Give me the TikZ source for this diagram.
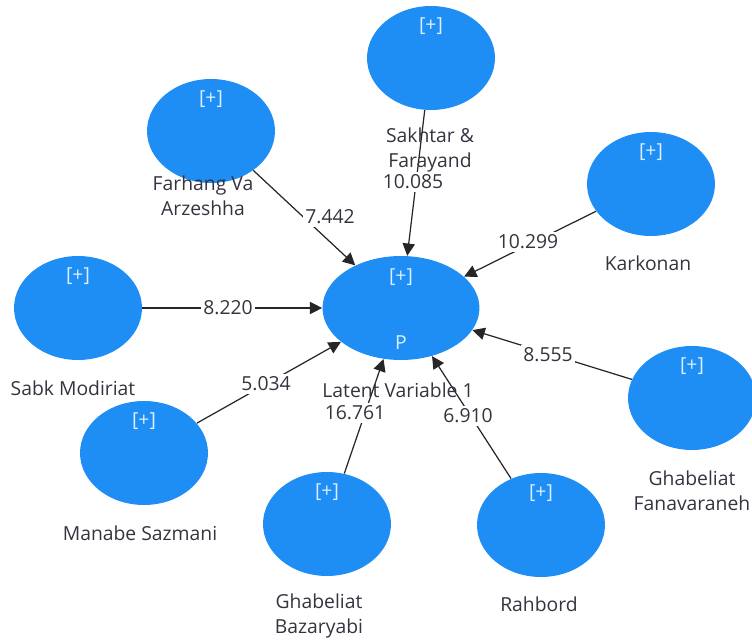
\documentclass[tikz,border=0pt]{standalone}
\usepackage{fontspec}
\setmainfont{Open Sans}
\usetikzlibrary{shapes.geometric,arrows.meta}
\definecolor{lvblue}{RGB}{30,142,245}
\definecolor{lvtext}{RGB}{55,50,62}

\begin{document}
\begin{tikzpicture}[x=0.02cm, y=-0.02cm,
    construct/.style={ellipse, fill=lvblue, inner sep=0pt, minimum width=2.56cm, minimum height=2.08cm},
    plus/.style={text=white!85!lvblue, inner sep=0pt, font=\fontsize{11}{14}\selectfont},
    caption/.style={text=lvtext, align=center, inner sep=0pt, font=\fontsize{11}{14}\selectfont},
    weight/.style={text=lvtext, fill=white, inner sep=1.5pt, font=\fontsize{11}{14}\selectfont},
    link/.style={draw=black!85, line width=0.7pt, -{Triangle[length=7pt,width=7pt]}}]
    \useasboundingbox (0,0) rectangle (752,642);
    % Draw the latent variable in the middle
    \node[construct, minimum width=3.14cm] (lv) at (401,308) {};
    \node[plus] (lv-plus) at (401,277) {[+]};
    \node[plus] (lv-p) at (401,343) {P};
    % Draw the eight constructs around it
    \foreach \n/\x/\y in {farhang/211/131, sakhtar/431/58, karkonan/651/184, sabk/78/308,
                          fanavar/692/398, manabe/144/453, bazar/327/524, rahbord/541/525} {
        \node[construct] (\n) at (\x,\y) {};
        \node[plus] (\n-plus) at (\x,\y-32) {[+]};
    }
    % Arrows from each construct to the latent variable
    \foreach \n in {farhang, sakhtar, karkonan, sabk, fanavar, manabe, bazar, rahbord}
        \draw[link] (\n) -- (lv);
    % Path weights on the arrows
    \foreach \n/\v/\x/\y in {farhang/7.442/330/217, sakhtar/10.085/413/182, karkonan/10.299/528/242,
                             sabk/8.220/228/308, fanavar/8.555/548/355, manabe/5.034/266/384,
                             bazar/16.761/355/413, rahbord/6.910/468/416}
        \node[weight] (\n-w) at (\x,\y) {\v};
    % Names of the constructs
    \node[caption] (lv-name) at (398,390) {Latent Variable 1};
    \node[caption] (farhang-name) at (203,196) {Farhang Va\\Arzeshha};
    \node[caption] (sakhtar-name) at (430,150) {Sakhtar \&\\Farayand};
    \node[caption] (karkonan-name) at (648,263) {Karkonan};
    \node[caption] (sabk-name) at (73,388) {Sabk Modiriat};
    \node[caption] (fanavar-name) at (692,491) {Ghabeliat\\Fanavaraneh};
    \node[caption] (manabe-name) at (140,533) {Manabe Sazmani};
    \node[caption] (bazar-name) at (319,616) {Ghabeliat\\Bazaryabi};
    \node[caption] (rahbord-name) at (539,604) {Rahbord};
\end{tikzpicture}
\end{document}
